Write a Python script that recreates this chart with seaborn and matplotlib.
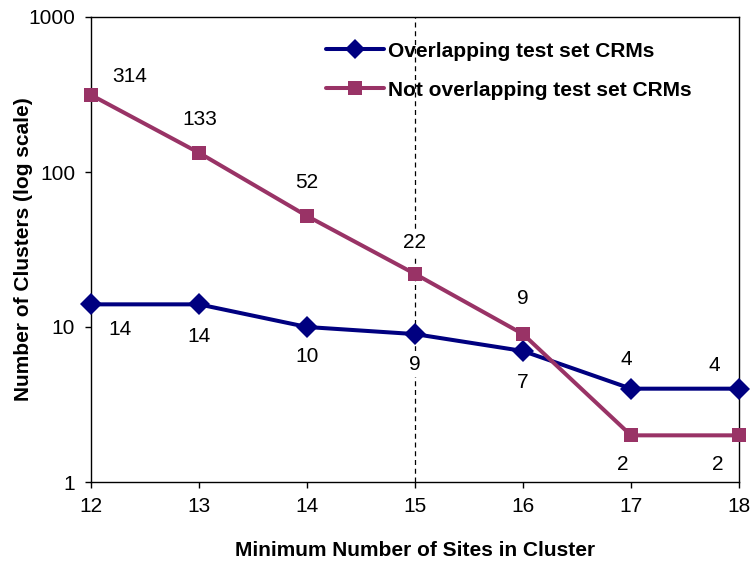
import matplotlib
matplotlib.use("Agg")
import matplotlib.pyplot as plt
from matplotlib.lines import Line2D
import seaborn as sns
import pandas as pd

sites = [12, 13, 14, 15, 16, 17, 18]
overlapping = [14, 14, 10, 9, 7, 4, 4]
not_overlapping = [314, 133, 52, 22, 9, 2, 2]
series_names = ["Overlapping test set CRMs", "Not overlapping test set CRMs"]
tick_labels_y = ["1", "10", "100", "1000"]

sns.set_style("white")
plt.rcParams['font.family'] = ['Liberation Sans', 'DejaVu Sans']
for k in ["text.color", "axes.labelcolor", "xtick.color", "ytick.color"]:
    plt.rcParams[k] = "black"

df = pd.DataFrame({
    "sites": sites * 2,
    "count": overlapping + not_overlapping,
    "series": [series_names[0]] * len(sites) + [series_names[1]] * len(sites),
})

fig = plt.figure(figsize=(7.54, 5.65), dpi=100)
ax = fig.add_axes([91 / 754, 1 - 482 / 565, 648 / 754, 465 / 565])

palette = {series_names[0]: "#000080", series_names[1]: "#993366"}
markers = {series_names[0]: "D", series_names[1]: "s"}
sns.lineplot(data=df, x="sites", y="count", hue="series", style="series",
             palette=palette, markers=markers, dashes=False, linewidth=2.9,
             markeredgewidth=0, ax=ax, legend=False, zorder=3)
for line in ax.get_lines():
    line.set_clip_on(False)
    if line.get_marker() == "s":
        line.set_markersize(10.5)
    else:
        line.set_markersize(11)

ax.set_yscale("log")
ax.set_ylim(1, 1000)
ax.set_xlim(12, 18)
ax.set_yticks([1, 10, 100, 1000])
ax.set_yticklabels(tick_labels_y)
ax.yaxis.set_minor_locator(matplotlib.ticker.NullLocator())
ax.set_xticks(sites)
ax.set_xticklabels([str(s) for s in sites])
ax.tick_params(axis="both", which="major", direction="out", length=4.5, width=1,
               labelsize=15, color="black", left=True, bottom=True)
ax.tick_params(axis="x", pad=6)
ax.tick_params(axis="y", pad=7)

for sp in ax.spines.values():
    sp.set_visible(True)
    sp.set_color("black")
    sp.set_linewidth(1.0)

ax.axvline(15, color="black", linestyle=(0, (4, 3)), linewidth=0.9, zorder=1)

ax.set_xlabel("Minimum Number of Sites in Cluster", fontsize=15, fontweight="bold")
ax.set_ylabel("Number of Clusters (log scale)", fontsize=15, fontweight="bold")
ax.xaxis.label.set_va("center")
ax.yaxis.label.set_va("center")
ax.xaxis.set_label_coords(0.5, (482 - 550) / 465)
ax.yaxis.set_label_coords((24 - 91) / 648, 0.5)

# data labels (offsets in pixels, y up)
ov_offsets = [(29, -25), (0, -32), (0, -30), (0, -30), (0, -31), (-5, 29), (-25, 23)]
no_offsets = [(39, 18), (1, 33), (0, 34), (0, 31), (0, 36), (-8, -29), (-21, -29)]
label_box = dict(boxstyle="square,pad=0.15", fc="white", ec="none")
for x, y, off in zip(sites, overlapping, ov_offsets):
    ax.annotate(str(y), (x, y), xytext=off, textcoords="offset pixels",
                ha="center", va="center", fontsize=15, bbox=label_box, zorder=2)
for x, y, off in zip(sites, not_overlapping, no_offsets):
    ax.annotate(str(y), (x, y), xytext=off, textcoords="offset pixels",
                ha="center", va="center", fontsize=15, bbox=label_box, zorder=2)

handles = [
    Line2D([], [], color="#000080", marker="D", linewidth=2.9, markersize=10, markeredgewidth=0),
    Line2D([], [], color="#993366", marker="s", linewidth=2.9, markersize=10, markeredgewidth=0),
]
leg = ax.legend(handles, series_names, loc="upper left",
                bbox_to_anchor=((307 - 91) / 648, 1 - 6 / 465),
                frameon=False, prop={"weight": "bold", "size": 15},
                handlelength=2.8, handletextpad=0.2, labelspacing=0.95,
                borderaxespad=0.5)

fig.savefig("out.png", dpi=100, facecolor="white")
